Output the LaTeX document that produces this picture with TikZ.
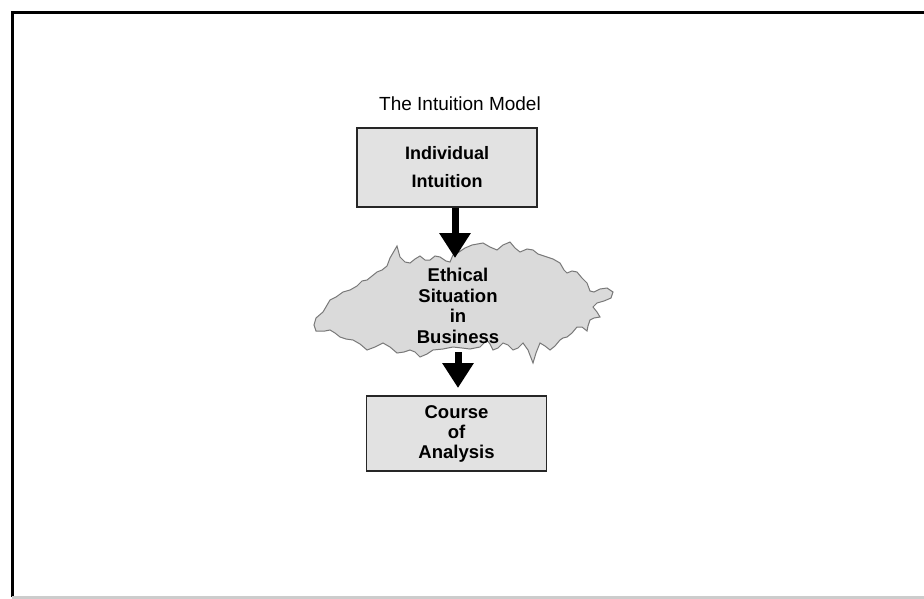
\documentclass[tikz,border=0pt]{standalone}
\usepackage{fontspec}
\setmainfont{Liberation Sans}
\usepackage{xcolor}
\usetikzlibrary{arrows.meta,calc,positioning}
\definecolor{boxgray}{RGB}{226,226,226}
\definecolor{cloudgray}{RGB}{218,218,218}
\definecolor{edgegray}{RGB}{120,120,120}
\tikzset{
	x=1pt,y=-1pt,
	stepbox/.style ={rectangle, draw=black!85, line width=1.6pt, fill=boxgray, minimum width=180pt, align=center},
	label/.style = {align=center, inner sep=0pt, font=\fontsize{18.5}{20.5}\selectfont\bfseries},
	bigarrow/.style={-{Triangle[length=25pt,width=30pt]}, line width=7pt, black},
	frame/.style={line width=3pt, black}
}

\begin{document}
\begin{tikzpicture}
    \useasboundingbox (0,0) rectangle (924,598);
    \draw[frame] (12,597) -- (12,12) -- (930,12);
    \draw[frame, black!20] (12,597) -- (924,597);

    \node[anchor=base, font=\fontsize{19}{21}\selectfont] (title) at (460,110) {The Intuition Model};

    \node[stepbox, minimum height=79pt, font=\fontsize{18}{28}\selectfont\bfseries] (intuition) at (447,167.5) {Individual\\Intuition};

    % jagged cloud
    \draw[edgegray, line width=1pt, fill=cloudgray]
      (316,318) -- (323,312) -- (330,300) -- (336,297) -- (343,292) -- (350,290) -- (357,286)
      -- (362,281) -- (367,280) -- (372,276) -- (377,272) -- (382,270) -- (387,266) -- (390,258)
      -- (397,246) -- (400,257) -- (405,262) -- (410,263) -- (415,259) -- (420,256) -- (425,260)
      -- (430,260) -- (435,256) -- (440,257) -- (446,261) -- (450,262) -- (453,255) -- (459,252)
      -- (465,248) -- (472,245) -- (483,243) -- (490,247) -- (497,250) -- (503,245) -- (510,242)
      -- (515,248) -- (520,252) -- (527,249) -- (533,250) -- (538,254) -- (547,257) -- (553,259)
      -- (560,263) -- (564,270) -- (567,273) -- (572,271) -- (577,272) -- (582,278) -- (587,283)
      -- (590,291) -- (594,292) -- (600,289) -- (607,288) -- (613,292) -- (611,298) -- (604,301)
      -- (597,303) -- (593,307) -- (597,312) -- (600,317) -- (594,318) -- (590,320) -- (588,326)
      -- (587,331) -- (582,327) -- (577,327) -- (572,333) -- (567,337) -- (563,338) -- (560,340)
      -- (555,346) -- (550,350) -- (545,346) -- (540,343) -- (536,353) -- (533,363) -- (528,350)
      -- (523,343) -- (518,348) -- (513,350) -- (508,345) -- (503,343) -- (498,348) -- (493,350)
      -- (490,344) -- (487,340) -- (480,347) -- (470,349) -- (462,348) -- (453,347) -- (443,349)
      -- (433,350) -- (427,354) -- (420,357) -- (415,352) -- (410,350) -- (404,352) -- (397,353)
      -- (390,347) -- (383,343) -- (375,347) -- (367,350) -- (360,344) -- (353,340) -- (346,339)
      -- (340,337) -- (335,333) -- (330,330) -- (325,331) -- (316,331) -- (314,325) -- cycle;

    \node[label] (situation) at (458,306) {Ethical\\Situation\\in\\Business};

    \node[stepbox, minimum height=75pt, font=\fontsize{18.5}{20}\selectfont\bfseries] (analysis) at (456.5,433.5) {Course\\of\\Analysis};

    \coordinate (tip1) at (455,258);
    \coordinate (start2) at (458,352);
    \coordinate (tip2) at (458,388);

    \draw[bigarrow] (tip1 |- intuition.south) -- (tip1);
    \draw[bigarrow] (start2) -- (tip2);
\end{tikzpicture}
\end{document}
